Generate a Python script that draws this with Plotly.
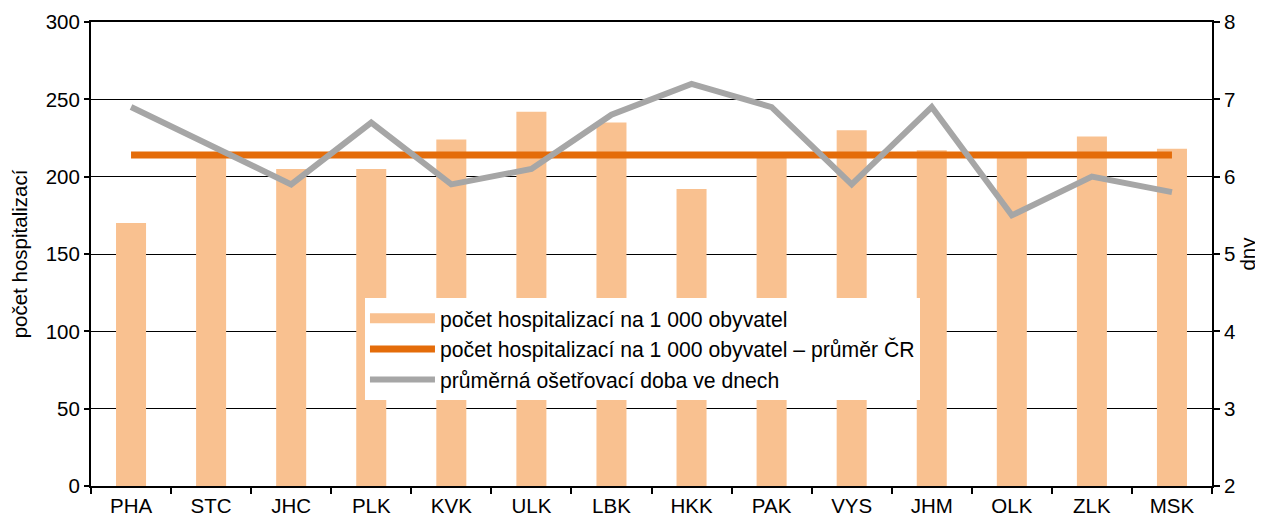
import plotly.graph_objects as go

regions = ["PHA", "STC", "JHC", "PLK", "KVK", "ULK", "LBK", "HKK", "PAK", "VYS", "JHM", "OLK", "ZLK", "MSK"]
hosp_per_1000 = [170, 212, 205, 205, 224, 242, 235, 192, 213, 230, 217, 212, 226, 218]
hosp_avg_cr = [214] * len(regions)
avg_los_days = [6.9, 6.4, 5.9, 6.7, 5.9, 6.1, 6.8, 7.2, 6.9, 5.9, 6.9, 5.5, 6.0, 5.8]

font = "Liberation Sans, Arial, sans-serif"
FS = 20.5
LFS = 21.2
bar_color = "#F9C190"

fig = go.Figure()
fig.add_trace(go.Bar(
    x=regions, y=hosp_per_1000, name="počet hospitalizací na 1 000 obyvatel",
    marker=dict(color=bar_color, line=dict(width=0)), showlegend=False,
))
# legend proxy for the bars (wide rectangle symbol like the original)
fig.add_trace(go.Scatter(
    x=[None], y=[None], mode="lines", name="počet hospitalizací na 1 000 obyvatel",
    line=dict(color=bar_color, width=11),
))
fig.add_trace(go.Scatter(
    x=regions, y=hosp_avg_cr, mode="lines",
    name="počet hospitalizací na 1 000 obyvatel – průměr ČR",
    line=dict(color="#E46C0A", width=7),
))
fig.add_trace(go.Scatter(
    x=regions, y=avg_los_days, mode="lines", yaxis="y2",
    name="průměrná ošetřovací doba ve dnech",
    line=dict(color="#A6A6A6", width=6),
))

fig.update_layout(
    width=1255, height=513,
    margin=dict(l=83, r=51, t=14, b=35, autoexpand=False),
    paper_bgcolor="white", plot_bgcolor="white",
    font=dict(family=font, size=FS, color="black"),
    bargap=0.625,
    showlegend=True,
    legend=dict(
        x=0.2444, y=0.405, xanchor="left", yanchor="top",
        bgcolor="white", font=dict(size=LFS, family=font),
        tracegroupgap=0, itemwidth=65,
    ),
    xaxis=dict(
        showline=True, linecolor="black", linewidth=2, mirror=True,
        ticks="outside", tickson="boundaries", ticklen=6, tickwidth=2, tickcolor="black",
        showgrid=False, tickfont=dict(size=FS), automargin=False,
    ),
    yaxis=dict(
        range=[0, 300], dtick=50, showline=True, linecolor="black", linewidth=2,
        ticks="outside", ticklen=5, tickwidth=2, tickcolor="black",
        showgrid=True, gridcolor="black", gridwidth=1, zeroline=False,
        title=dict(text="počet hospitalizací", font=dict(size=FS), standoff=17),
        tickfont=dict(size=FS), automargin=False,
    ),
    yaxis2=dict(
        range=[2, 8], dtick=1, overlaying="y", side="right",
        showline=True, linecolor="black", linewidth=2,
        ticks="outside", ticklen=6, tickwidth=2, tickcolor="black",
        showgrid=False, zeroline=False,
        title=dict(text="dny", font=dict(size=FS), standoff=2),
        tickfont=dict(size=FS), automargin=False,
    ),
)

fig.write_html("out.html")
